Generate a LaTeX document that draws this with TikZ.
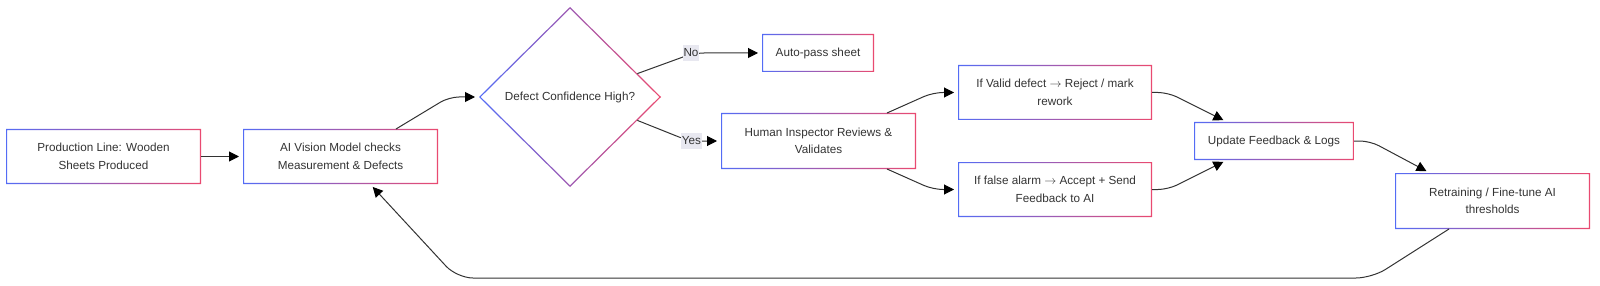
\documentclass[tikz,border=0pt]{standalone}
\usepackage{fontspec}
\setmainfont{Liberation Sans}
\usetikzlibrary{arrows.meta,calc}
\definecolor{gblue}{RGB}{84,108,245}
\definecolor{gred}{RGB}{234,74,112}
\definecolor{txt}{RGB}{51,51,51}
\definecolor{edgec}{RGB}{51,51,51}
\definecolor{lblbg}{RGB}{232,232,240}
\begin{document}
\begin{tikzpicture}[x=1pt,y=-1pt,
  box/.style={rectangle, inner sep=0pt, outer sep=0pt, align=center, text=txt,
    font=\fontsize{11.7}{17.5}\selectfont},
  edge/.style={draw=edgec, line width=1pt, -{Triangle[length=10pt,width=10pt,color=black]},
    shorten >=4pt, rounded corners=10pt},
  lbl/.style={fill=lblbg, inner xsep=0.5pt, inner ysep=2pt, text height=9pt,
    text depth=3pt, text=txt, font=\fontsize{11.7}{14}\selectfont},
  frame/.style={left color=gblue, right color=gred, even odd rule}
]
\useasboundingbox (0,0) rectangle (1600,286);

% nodes
\node[box, minimum width=195pt, minimum height=55pt] (b1) at (103.5,156.5) {Production Line: Wooden\\Sheets Produced};
\node[box, minimum width=195pt, minimum height=55pt] (b2) at (340.5,156.5) {AI Vision Model checks\\Measurement \& Defects};
\node[box] (d) at (570,97) {Defect Confidence High?};
\coordinate (dN) at (570,7);
\coordinate (dE) at (661,97);
\coordinate (dS) at (570,187);
\coordinate (dW) at (479,97);
\node[box, minimum width=112pt, minimum height=38pt] (ap) at (818,53) {Auto-pass sheet};
\node[box, minimum width=195pt, minimum height=56pt] (hi) at (818.5,141) {Human Inspector Reviews \&\\Validates};
\node[box, minimum width=194pt, minimum height=55pt] (vd) at (1055,92.5) {If Valid defect \(\rightarrow\) Reject / mark\\rework};
\node[box, minimum width=194pt, minimum height=55pt] (fa) at (1055,189.5) {If false alarm \(\rightarrow\) Accept + Send\\Feedback to AI};
\node[box, minimum width=160pt, minimum height=38pt] (up) at (1274,141) {Update Feedback \& Logs};
\node[box, minimum width=195pt, minimum height=56pt] (rt) at (1492.5,201) {Retraining / Fine-tune AI\\thresholds};

% gradient frames
\foreach \n in {b1,b2,ap,hi,vd,fa,up,rt}{
  \shade[frame] (\n.south west) rectangle (\n.north east)
    ([xshift=1.2pt,yshift=1.2pt]\n.south west) rectangle ([xshift=-1.2pt,yshift=-1.2pt]\n.north east);
}
\shade[frame] (dN) -- (dE) -- (dS) -- (dW) -- cycle
  ([yshift=-1.7pt]dN) -- ([xshift=-1.7pt]dE) -- ([yshift=1.7pt]dS) -- ([xshift=1.7pt]dW) -- cycle;

% edges
\draw[edge] (b1.east) -- (b2.west);
\draw[edge] ([xshift=55.5pt]b2.north) -- ([xshift=-30pt]dW) -- (dW);
\draw[edge] ($(dN)!0.74!(dE)$) -- ([xshift=-68pt]ap.west) -- (ap.west);
\draw[edge] ($(dE)!0.26!(dS)$) -- ([xshift=-32pt]hi.west) -- (hi.west);
\draw[edge] ([xshift=68.5pt]hi.north) -- ([xshift=-25pt]vd.west) -- (vd.west);
\draw[edge] ([xshift=68.5pt]hi.south) -- ([xshift=-25pt]fa.west) -- (fa.west);
\draw[edge] (vd.east) -- ([xshift=16pt]vd.east) -- ([xshift=-47pt]up.north);
\draw[edge] (fa.east) -- ([xshift=16pt]fa.east) -- ([xshift=-47pt]up.south);
\draw[edge] (up.east) -- ([xshift=16pt]up.east) -- ([xshift=-62.5pt]rt.north);
\draw[edge, rounded corners=16pt] ([xshift=-43.5pt]rt.south) -- (1372,278) -- (457,278) -- ([xshift=29.5pt]b2.south);

% edge labels
\node[lbl] (lno) at (691,53.5) {No};
\node[lbl] (lyes) at (691.5,141) {Yes};
\end{tikzpicture}
\end{document}
